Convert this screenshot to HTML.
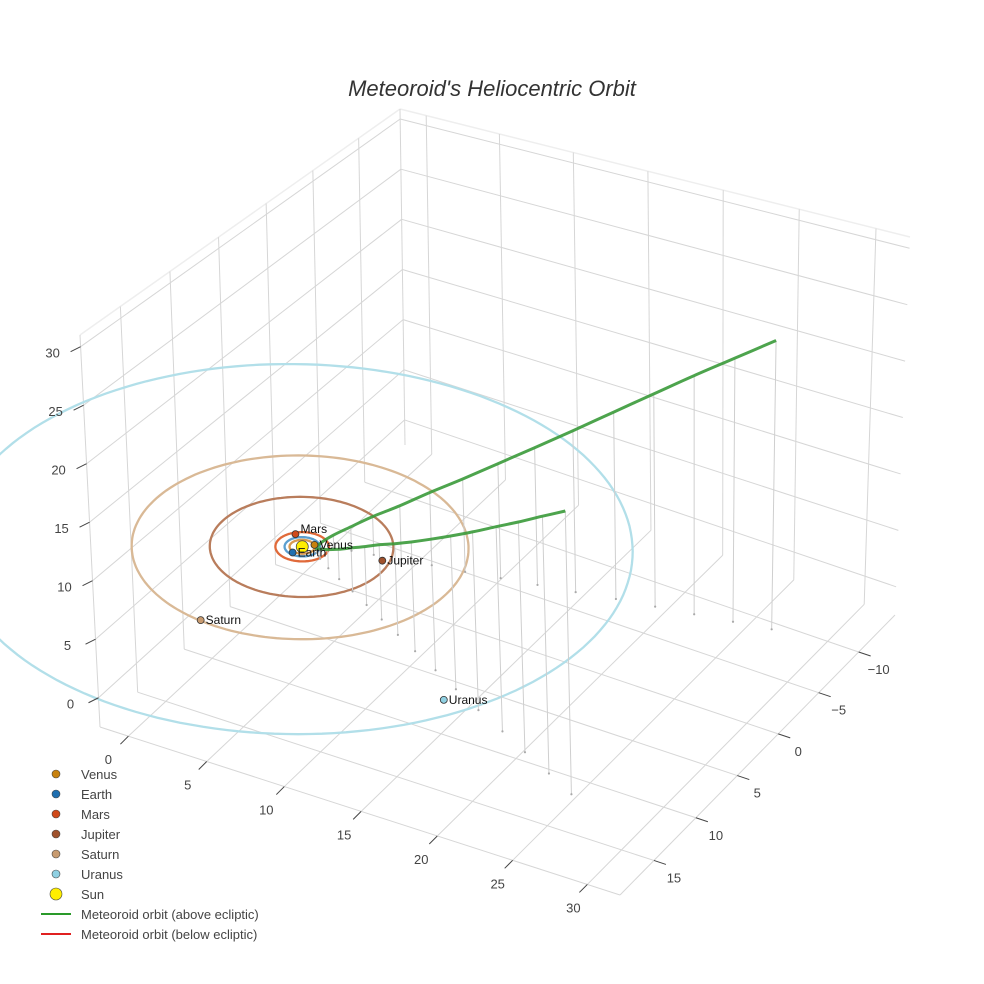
<!DOCTYPE html>
<html><head><meta charset="utf-8"><style>
body{margin:0;background:#fff;}
svg{display:block;font-family:"Liberation Sans",Arial,sans-serif;}
</style></head><body>
<svg id="chart" width="984" height="984" viewBox="0 0 984 984">
<rect width="984" height="984" fill="#fff"/>
<text x="492" y="96" text-anchor="middle" font-size="22" font-style="italic" fill="#333">Meteoroid's Heliocentric Orbit</text>
<g id="grid"></g>
<g id="data"></g>
<g id="axes"></g>
<g id="legend"></g>
</svg>
<script>
// ---- data ----
const planetNames = ["Venus","Earth","Mars","Jupiter","Saturn","Uranus"];
const planetX = [0.49,-0.16,-1.0,4.63,-1.01,14.95];
const planetY = [-0.53,0.8,-0.93,-1.13,9.43,9.49];
const orbitRadii = [0.72,1.0,1.52,5.2,9.54,19.2];
const planetColors = ["#c8820f","#1f6fb0","#d04a1a","#a0522d","#c89b70","#8fd0e2"];
const orbitColors = ["#d89a50","#5b9fd0","#e06a3a","#b97d5c","#d9b996","#b2dfe9"];
const meteorX = [26.2,24,21.7,19.5,17.2,15,13,11,9.3,7.7,6.2,4.8,3.5,2.4,1.5,1.0,1.0,1.6,2.6,3.9,5.5,7.3,9.3,11.4,13.6,15.9,18.3,20.7,23.1,25.5,27.9];
const meteorY = [14.2,13.0,11.8,10.6,9.4,8.2,7.1,6.0,5.05,4.15,3.3,2.5,1.8,1.15,0.55,0.1,-0.5,-0.8,-1.1,-1.4,-1.8,-2.2,-2.6,-3.1,-3.6,-4.1,-4.7,-5.2,-5.7,-6.2,-6.7];
const meteorZ = [23.3,21.3,19.2,17.2,15.1,13.1,11.3,9.5,8.0,6.6,5.2,3.9,2.7,1.7,0.9,0.4,0.5,1.2,2.2,3.5,4.9,6.6,8.4,10.3,12.3,14.4,16.6,18.8,21,23.1,25.2];
const xTicks = [0,5,10,15,20,25,30];
const yTicks = [-10,-5,0,5,10,15];
const zTicks = [0,5,10,15,20,25,30];
const xr=[-1.8,32.2], yr=[-14.6,19.0], zr=[-2.5,31];

// ---- projection ----
function quad(p){
  const [x0,y0]=p[0],[x1,y1]=p[1],[x2,y2]=p[2],[x3,y3]=p[3];
  const dx1=x1-x2,dx2=x3-x2,dx3=x0-x1+x2-x3,dy1=y1-y2,dy2=y3-y2,dy3=y0-y1+y2-y3;
  const den=dx1*dy2-dx2*dy1;
  const g=(dx3*dy2-dx2*dy3)/den,h=(dx1*dy3-dx3*dy1)/den;
  const a=x1-x0+g*x1,b=x3-x0+h*x3,c=x0,d=y1-y0+g*y1,e=y3-y0+h*y3,f=y0;
  return (u,v)=>{const w=g*u+h*v+1;return [(a*u+b*v+c)/w,(d*u+e*v+f)/w];};
}
const floorH=quad([[405,445],[895,615],[620,895],[100,727]]);
const topH=quad([[400,109],[910,237],[615,480],[80,335]]);
function P(x,y,z){
  const u=(x-xr[0])/(xr[1]-xr[0]),v=(y-yr[0])/(yr[1]-yr[0]),w=(z-zr[0])/(zr[1]-zr[0]);
  const f=floorH(u,v),t=topH(u,v);
  return [f[0]+(t[0]-f[0])*w,f[1]+(t[1]-f[1])*w];
}
const NS="http://www.w3.org/2000/svg";
function el(tag,attrs,parent){const e=document.createElementNS(NS,tag);for(const k in attrs)e.setAttribute(k,attrs[k]);parent.appendChild(e);return e;}
function line(a,b,stroke,sw,parent,name){
  const e=el("line",{x1:a[0],y1:a[1],x2:b[0],y2:b[1],stroke:stroke,"stroke-width":sw},parent);
  
  
  return e;
}
const grid=document.getElementById("grid"),data=document.getElementById("data"),axes=document.getElementById("axes"),legend=document.getElementById("legend");
const gc="#d6d6d6";
[[[xr[0],yr[0]],[xr[1],yr[0]]],[[xr[0],yr[0]],[xr[0],yr[1]]]].forEach(s=>{
  line(P(s[0][0],s[0][1],zr[1]),P(s[1][0],s[1][1],zr[1]),"#eee",1.5,grid,"box-top-edge");
});
xTicks.forEach(x=>line(P(x,yr[0],zr[0]),P(x,yr[1],zr[0]),gc,1,grid,"floor-gridline-x"));
yTicks.forEach(y=>line(P(xr[0],y,zr[0]),P(xr[1],y,zr[0]),gc,1,grid,"floor-gridline-y"));
yTicks.forEach(y=>line(P(xr[0],y,zr[0]),P(xr[0],y,zr[1]),gc,1,grid,"left-wall-gridline-y"));
zTicks.forEach(z=>line(P(xr[0],yr[0],z),P(xr[0],yr[1],z),gc,1,grid,"left-wall-gridline-z"));
xTicks.forEach(x=>line(P(x,yr[0],zr[0]),P(x,yr[0],zr[1]),gc,1,grid,"right-wall-gridline-x"));
zTicks.forEach(z=>line(P(xr[0],yr[0],z),P(xr[1],yr[0],z),gc,1,grid,"right-wall-gridline-z"));
line(P(xr[0],yr[0],zr[0]),P(xr[0],yr[0],zr[1]),gc,1,grid,"back-edge");
line(P(xr[0],yr[1],zr[0]),P(xr[0],yr[1],zr[1]),gc,1,grid,"z-axis-line");
line(P(xr[0],yr[1],zr[0]),P(xr[1],yr[1],zr[0]),gc,1,grid,"x-axis-line");
line(P(xr[1],yr[0],zr[0]),P(xr[1],yr[1],zr[0]),gc,1,grid,"y-axis-line");

function txt(x,y,s,parent,name,extra){
  const t=el("text",Object.assign({x:x,y:y,"font-size":13,fill:"#444","text-anchor":"middle"},extra||{}),parent);
  t.textContent=s;
  
  
  return t;
}
xTicks.forEach((x,i)=>{const p=P(x,yr[1],zr[0]);line(p,[p[0]-8,p[1]+8],"#444",1,axes,"x-tick");txt(p[0]-20+i,p[1]+28,String(x),axes,"x-tick-label");});
yTicks.forEach(y=>{const p=P(xr[1],y,zr[0]);line(p,[p[0]+12,p[1]+4],"#444",1,axes,"y-tick");txt(p[0]+20,p[1]+22,y<0?"\u2212"+(-y):String(y),axes,"y-tick-label");});
zTicks.forEach(z=>{const p=P(xr[0],yr[1],z);line(p,[p[0]-10,p[1]+5],"#444",1,axes,"z-tick");txt(p[0]-28,p[1]+11,String(z),axes,"z-tick-label");});

orbitRadii.forEach((r,i)=>{
  let d="";
  for(let k=0;k<=180;k++){const a=k/180*2*Math.PI;const p=P(r*Math.cos(a),r*Math.sin(a),0);d+=(k?"L":"M")+p[0].toFixed(1)+","+p[1].toFixed(1);}
  const o=el("path",{d:d,fill:"none",stroke:orbitColors[i],"stroke-width":2.3},data);
  
  
});
meteorX.forEach((x,i)=>{
  const a=P(x,meteorY[i],meteorZ[i]),b=P(x,meteorY[i],0);
  line(a,b,"#cfcfcf",1,data,"drop-line");
  const c=el("circle",{cx:b[0],cy:b[1],r:1.1,fill:"#aaa"},data);
  
  
});
{const pts=meteorX.map((x,i)=>P(x,meteorY[i],meteorZ[i]));
let d="M"+pts[0][0].toFixed(1)+","+pts[0][1].toFixed(1);
for(let i=0;i<pts.length-1;i++){
  const p0=pts[Math.max(0,i-1)],p1=pts[i],p2=pts[i+1],p3=pts[Math.min(pts.length-1,i+2)];
  const c1=[p1[0]+(p2[0]-p0[0])/6,p1[1]+(p2[1]-p0[1])/6],c2=[p2[0]-(p3[0]-p1[0])/6,p2[1]-(p3[1]-p1[1])/6];
  d+="C"+c1[0].toFixed(1)+","+c1[1].toFixed(1)+" "+c2[0].toFixed(1)+","+c2[1].toFixed(1)+" "+p2[0].toFixed(1)+","+p2[1].toFixed(1);
}
const m=el("path",{d:d,fill:"none",stroke:"#3a9a3a","stroke-width":3,"stroke-opacity":0.9,"stroke-linejoin":"round"},data);

}
{const p=P(0,0,0);const s=el("circle",{cx:p[0],cy:p[1],r:6,fill:"#ffee00",stroke:"#444","stroke-width":0.8},data);

}
planetNames.forEach((n,i)=>{
  const p=P(planetX[i],planetY[i],0);
  const c=el("circle",{cx:p[0],cy:p[1],r:3.5,fill:planetColors[i],stroke:"#333","stroke-width":0.8},data);
  
  
  txt(p[0]+5,p[1]+(n==="Mars"?-1:4),n,data,"planet-label-"+n.toLowerCase(),{"text-anchor":"start","font-size":12,fill:"#111"});
});
const legNames=planetNames.concat(["Sun"]);
const legColors=planetColors.concat(["#ffee00"]);
legNames.forEach((n,i)=>{
  const y=774+i*20;
  const c=el("circle",{cx:56,cy:y,r:n==="Sun"?6:4,fill:legColors[i],stroke:"#444","stroke-width":0.6},legend);
  
  
  txt(81,y+5,n,legend,"legend-label-"+n.toLowerCase(),{"text-anchor":"start"});
});
[["Meteoroid orbit (above ecliptic)","#2a9a2a"],["Meteoroid orbit (below ecliptic)","#e02020"]].forEach((d,i)=>{
  const y=914+i*20;
  const l=line([41,y],[71,y],d[1],2,legend,"legend-line");
  
  txt(81,y+5,d[0],legend,"legend-label-meteoroid-"+(i?"below":"above"),{"text-anchor":"start"});
});
</script>
</body></html>
